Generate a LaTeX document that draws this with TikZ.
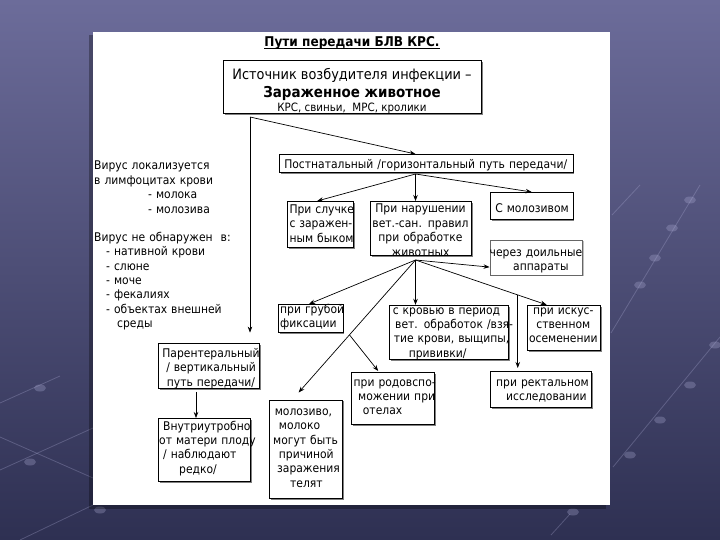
\documentclass[tikz,border=0pt]{standalone}
\usepackage{fontspec}
\setmainfont{DejaVu Sans}[FakeStretch=0.9]
\usetikzlibrary{arrows.meta,calc,shadows}
\definecolor{bgA}{RGB}{108,108,154}
\definecolor{bgB}{RGB}{46,48,82}
\definecolor{netc}{RGB}{175,175,215}
\tikzset{
  box/.style={draw=black, line width=0.8bp, fill=white, inner sep=0pt, anchor=north west,
    drop shadow={shadow xshift=1.5bp, shadow yshift=-1.5bp, fill=black!50, opacity=1}},
  txt/.style={inner sep=0pt, anchor=base west, align=left,
    font=\fontsize{12}{14.4}\selectfont},
  ctxt/.style={txt, anchor=base, align=center},
  arr/.style={line width=0.7bp, -{Stealth[length=6bp,width=4.5bp]}},
  net/.style={netc, line width=0.8bp, opacity=0.3},
  netdot/.style={fill=netc, opacity=0.3},
}
\begin{document}
\begin{tikzpicture}[x=1bp,y=-1bp]
\useasboundingbox (0,0) rectangle (720,540);
\shade[top color=bgA, bottom color=bgB] (0,0) rectangle (720,540);
% background network
\draw[net] (0,403) -- (60,376);
\draw[net] (0,470) -- (93,428);
\draw[net] (0,437) -- (93,478);
\draw[net] (20,540) -- (93,505);
\draw[net] (611,333) -- (700,185);
\draw[net] (613,467) -- (720,337);
\draw[net] (612,215) -- (640,185);
\draw[net] (551,535) -- (570,514);
\foreach \p in {(40,388),(30,462),(100,510),(640,285),(655,258),(672,228),(690,200),(630,455),(660,420),(690,385),(715,345),(573,512)}
  \fill[netdot] \p ellipse (6bp and 3.5bp);
% white panel
\fill[black, opacity=0.3] (89,35) rectangle (606,509);
\fill[white] (93,32) rectangle (610,505);

% title
\node[inner sep=0pt, anchor=base, font=\bfseries\fontsize{13.5}{16}\selectfont] (title) at (352,46.5) {Пути передачи БЛВ КРС.};
\draw[line width=1bp] ($(title.base west)+(0,2)$) -- ($(title.base east)+(0,2)$);

% boxes
\node[box, minimum width=258bp, minimum height=53bp] (src) at (223,60) {};
\node[box, minimum width=293.5bp, minimum height=18.5bp] (post) at (279,154) {};
\node[box, minimum width=65.6bp, minimum height=46bp] (sluch) at (287,201) {};
\node[box, minimum width=101bp, minimum height=54bp] (narush) at (370,201) {};
\node[box, minimum width=82.5bp, minimum height=26.7bp] (moloz) at (490,192) {};
\node[box, draw=black!60, line width=0.6bp, minimum width=92.5bp, minimum height=34.5bp,
  drop shadow={shadow xshift=1.2bp, shadow yshift=-1.2bp, fill=black!25, opacity=1}] (doil) at (489.5,240) {};
\node[box, minimum width=64.7bp, minimum height=28bp] (grub) at (277.8,304) {};
\node[box, minimum width=119bp, minimum height=54.2bp] (krov) at (389,304.8) {};
\node[box, minimum width=73.4bp, minimum height=45.2bp] (iskus) at (526.6,304.8) {};
\node[box, minimum width=101bp, minimum height=45.4bp] (parent) at (158.4,342.6) {};
\node[box, minimum width=91.6bp, minimum height=63bp] (vnutri) at (158.4,418) {};
\node[box, minimum width=73.4bp, minimum height=98.5bp] (molz) at (268.6,399.5) {};
\node[box, minimum width=82.8bp, minimum height=52bp] (rodov) at (351.2,372) {};
\node[box, minimum width=101bp, minimum height=36.4bp] (rect) at (490,371) {};

% texts
\node[inner sep=0pt, anchor=base, font=\fontsize{14.4}{17}\selectfont] (src1) at (352,79.5) {Источник возбудителя инфекции –};
\node[inner sep=0pt, anchor=base, font=\bfseries\fontsize{15}{18}\selectfont] (src2) at (352,97.5) {Зараженное животное};
\node[inner sep=0pt, anchor=base, font=\fontsize{11.5}{14}\selectfont] (src3) at (352,111.5) {КРС, свиньи,\ \ МРС, кролики};

\node[txt, text width=200bp] (lefttext) at (94,170) {Вирус локализуется\\ в лимфоцитах крови\\ \hspace*{54bp}- молока\\ \hspace*{54bp}- молозива\\[14.2bp] Вирус не обнаружен\ \ в:\\ \hspace*{12bp}- нативной крови\\ \hspace*{12bp}- слюне\\ \hspace*{12bp}- моче\\ \hspace*{12bp}- фекалиях\\ \hspace*{12bp}- объектах внешней\\ \hspace*{23bp}среды};

\node[ctxt, text width=300bp] (post-t) at (425.7,169) {Постнатальный /горизонтальный путь передачи/};
\node[txt, text width=70bp] (sluch-t) at (289.3,213.5) {При случке\\с заражен-\\ным быком};
\node[ctxt, text width=110bp] (narush-t) at (420.5,213) {При нарушении\\вет.-сан. правил\\при обработке\\животных};
\node[ctxt, text width=90bp] (moloz-t) at (532,213) {С молозивом};
\node[txt, text width=100bp] (doil-t) at (489.5,256.5) {через доильные\\\hspace*{23.5bp}аппараты};
\node[txt, text width=70bp] (grub-t) at (280,313) {при грубой\\фиксации};
\node[txt, text width=130bp] (krov-t) at (392.6,314) {с кровью в период\\\hspace*{2.4bp}вет. обработок /взя-\\\hspace*{1bp}тие крови, выщипы,\\\hspace*{16bp}прививки/};
\node[ctxt, text width=80bp] (iskus-t) at (563.3,314) {при искус-\\ственном\\осеменении};
\node[ctxt, text width=110bp] (parent-t) at (211,357.6) {Парентеральный\\/ вертикальный\\путь передачи/};
\node[txt, text width=100bp] (vnutri-t) at (159,430) {\hspace*{4bp}Внутриутробно\\от матери плоду\\\hspace*{4bp}/ наблюдают\\\hspace*{20bp}редко/};
\node[txt, text width=80bp] (molz-t) at (273,415.5) {\hspace*{1.6bp}молозиво,\\\hspace*{5.7bp}молоко\\могут быть\\\hspace*{5.7bp}причиной\\\hspace*{4bp}заражения\\\hspace*{17bp}телят};
\node[txt, text width=90bp] (rodov-t) at (353.5,386.2) {при родовспо-\\\hspace*{4.5bp}можении при\\\hspace*{9.2bp}отелах};
\node[txt, text width=100bp] (rect-t) at (496,386.2) {при ректальном\\\hspace*{10bp}исследовании};

% connectors
\coordinate (split) at (250,117);
\coordinate (hubA) at (415.5,174);
\coordinate (hubB) at (415.5,260);
\draw[arr] (split) -- (hubA |- post.north);
\draw[arr, shorten >=10bp] (split) -- (split |- parent.north);
\draw[arr] (hubA) -- ($(sluch.north)+(-3,0)$);
\draw[arr] (hubA) -- (hubA |- narush.north);
\draw[arr] (hubA) -- (moloz.north);
\draw[arr] (hubB) -- ($(doil.south west)+(0,-8)$);
\draw[arr] (hubB) -- ($(grub.north)+(-1.5,0)$);
\draw[arr] (hubB) -- (hubB |- krov.north);
\coordinate (iend) at ($(iskus.north west)+(20,0)$);
\draw[arr] (hubB) -- (iend);
\coordinate (mend) at ($(molz.north west)+(30,-7)$);
\draw[arr] (hubB) -- (mend);
\coordinate (bm) at ($(hubB)!0.565!(mend)$);
\draw[arr] (bm) -- ($(rodov.north west)+(27,-1)$);
\coordinate (bi) at ($(hubB)!0.78!(iend)$);
\draw[arr, shorten >=3bp] (bi) -- (bi |- rect.north);
\coordinate (pv) at ($(parent.south west)+(37.6,3)$);
\draw[arr] (pv) -- (pv |- vnutri.north);
\end{tikzpicture}
\end{document}
